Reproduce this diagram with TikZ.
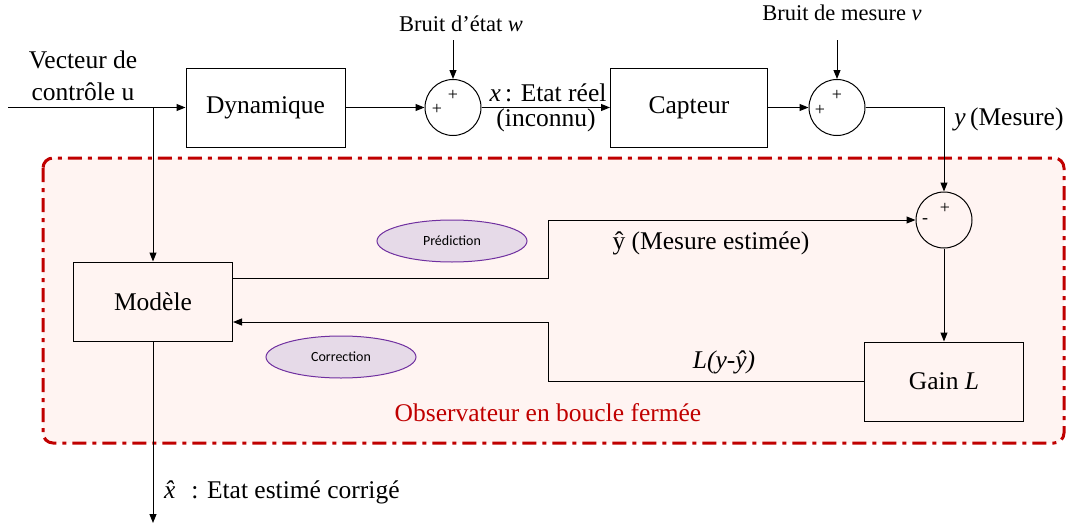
\documentclass[tikz,border=0pt]{standalone}
\usepackage{fontspec}
\setmainfont{Liberation Serif}
\newfontfamily\carl{Carlito}
\usetikzlibrary{arrows.meta,shapes.geometric}
\definecolor{obsred}{HTML}{C00000}
\definecolor{obsbg}{HTML}{FFF4F2}
\definecolor{ellfill}{HTML}{E6DAE8}
\definecolor{ellline}{HTML}{7030A0}
\begin{document}
\begin{tikzpicture}[x=1pt,y=-1pt,
 blk/.style={draw, line width=1pt, minimum width=159pt, minimum height=79pt, inner sep=0, font=\fontsize{25.5}{30}\selectfont},
 sumc/.style={draw, circle, line width=1pt, minimum size=56pt, inner sep=0},
 pm/.style={font=\fontsize{18}{18}\selectfont, inner sep=0},
 lbl/.style={font=\fontsize{25.5}{30}\selectfont, inner sep=0, anchor=base},
 small/.style={font=\fontsize{22.5}{26}\selectfont, inner sep=0, anchor=base},
 conn/.style={line width=1pt, -{Triangle[length=9pt,width=7pt]}},
 ell/.style={draw=ellline, fill=ellfill, ellipse, line width=1pt, minimum width=150pt, minimum height=42pt, inner sep=0, font=\carl\fontsize{14}{14}\selectfont}]

\useasboundingbox (0,0) rectangle (1066,530);

% observer region
\draw[draw=obsred, fill=obsbg, line width=3pt, rounded corners=10pt,
      dash pattern=on 14pt off 6pt on 4pt off 6pt] (43,158) rectangle (1064,443);
\node[lbl, text=obsred] (obs) at (548,421) {Observateur en boucle fermée};

% blocks
\node[blk] (dyn) at (265.5,107.5) {Dynamique};
\node[blk, minimum width=157pt] (cap) at (689,107.5) {Capteur};
\node[blk] (mod) at (153,301.5) {Modèle};
\node[blk] (gain) at (944,381.5) {Gain \textit{L}};

% summing junctions
\node[sumc] (s1) at (453,107.5) {};
\node[sumc] (s2) at (837,107.5) {};
\node[sumc] (s3) at (944,220) {};
\node[pm] (s1a) at (453,95) {+};
\node[pm] (s1b) at (437,109) {+};
\node[pm] (s2a) at (837,95) {+};
\node[pm] (s2b) at (820,110) {+};
\node[pm] (s3a) at (945,208) {+};
\node[pm] (s3b) at (925,221) {-};

% ellipses
\node[ell] (pred) at (452,241) {Prédiction};
\node[ell] (corr) at (341,357) {Correction};

% text labels
\node[lbl] (vec1) at (83,68) {Vecteur de};
\node[lbl] (vec2) at (83,100) {contrôle u};
\node[small] (w) at (461,31) {Bruit d’état \textit{w}};
\node[small] (v) at (842,20) {Bruit de mesure \textit{v}};
\node[lbl] (xr) at (548,101.5) {\textit{x}\,: Etat réel};
\node[lbl] (inc) at (546,126) {(inconnu)};
\node[lbl] (ym) at (1009,125) {\textit{y}\,(Mesure)};
\node[lbl] (yh) at (711,249) {ŷ (Mesure estimée)};
\node[lbl] (lyy) at (724,368) {\textit{L(y-ŷ)}};
\node[lbl, anchor=base west] (xh) at (164,498) {\textit{\^{x}} : Etat estimé corrigé};

% coordinates
\coordinate (in) at (8,107.5);
\coordinate (br) at (153,107.5);
\coordinate (n1) at (453,40);
\coordinate (n2) at (837,40);
\coordinate (out) at (153,523);

% connectors
\draw[conn] (in) -- (dyn.west);
\draw[conn] (br) -- (mod.north);
\draw[conn] (dyn.east) -- (s1.west);
\draw[conn] (n1) -- (s1.north);
\draw[conn] (s1.east) -- (cap.west);
\draw[conn] (cap.east) -- (s2.west);
\draw[conn] (n2) -- (s2.north);
\draw[conn] (s2.east) -| (s3.north);
\draw[conn] (s3.south) -- (gain.north);
\draw[conn] ([yshift=23.5pt]mod.east) -- (548,278) |- (s3.west);
\draw[conn] (gain.west) -- (548,381.5) |- ([yshift=-20.5pt]mod.east);
\draw[conn] (mod.south) -- (out);
\end{tikzpicture}
\end{document}
